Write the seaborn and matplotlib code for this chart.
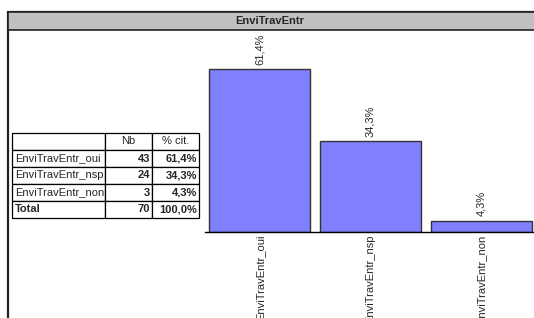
import numpy as np
import pandas as pd
import seaborn as sns
import matplotlib.pyplot as plt
from matplotlib.patches import Rectangle

# data
title = "EnviTravEntr"
categories = ["EnviTravEntr_oui", "EnviTravEntr_nsp", "EnviTravEntr_non"]
counts = [43, 24, 3]
pcts = [61.4, 34.3, 4.3]
pct_labels = ["61,4%", "34,3%", "4,3%"]
total_count = 70
total_label = "100,0%"
col_headers = ["", "Nb", "% cit."]

sns.set_style("white")
plt.rcParams['font.family'] = ['Liberation Sans', 'DejaVu Sans']

W, H = 534, 318
fig = plt.figure(figsize=(W / 100, H / 100), dpi=100)


def fx(x):
    return x / W


def fy(y):
    return 1 - y / H


# outer frame + title bar (behind the axes)
fig.patches.append(Rectangle((fx(8), fy(330)), fx(540) - fx(8), fy(12) - fy(330),
                             transform=fig.transFigure, facecolor="white",
                             edgecolor="#222222", linewidth=1.6, zorder=-2))
fig.patches.append(Rectangle((fx(8), fy(30)), fx(540) - fx(8), fy(12) - fy(30),
                             transform=fig.transFigure, facecolor="#c0c0c0",
                             edgecolor="#222222", linewidth=1.2, zorder=-1))
fig.text(fx(270), fy(21), title, ha="center", va="center",
         fontsize=8, fontweight="bold")

# bar chart
ax = fig.add_axes([fx(204.5), fy(232), fx(536.5) - fx(204.5), fy(30) - fy(232)])
ax.patch.set_alpha(0)
df = pd.DataFrame({"cat": categories, "pct": pcts})
sns.barplot(data=df, x="cat", y="pct", color="#8080ff", saturation=1,
            edgecolor="#333333", linewidth=1, width=0.91, ax=ax)
ax.bar_label(ax.containers[0], labels=pct_labels, rotation=90, padding=3, fontsize=8)
ax.set_ylim(0, 202 / 2.65)
ax.set_xlim(-0.5, 2.5)
ax.set_xlabel("")
ax.set_ylabel("")
ax.set_yticks([])
for s in ["top", "right", "left"]:
    ax.spines[s].set_visible(False)
ax.spines["bottom"].set_color("black")
ax.spines["bottom"].set_linewidth(1)
ax.tick_params(axis="x", length=0, pad=2, labelsize=8, labelrotation=90)
for lbl in ax.get_xticklabels():
    lbl.set_va("top")

# table
tax = fig.add_axes([fx(12), fy(218), fx(199) - fx(12), fy(133) - fy(218)])
tax.axis("off")
rows = [col_headers]
for c, n, p in zip(categories, counts, pct_labels):
    rows.append([c, str(n), p])
rows.append(["Total", str(total_count), total_label])
tbl = tax.table(cellText=rows, bbox=[0, 0, 1, 1],
                colWidths=[93 / 187, 47 / 187, 47 / 187])
tbl.auto_set_font_size(False)
for (r, c), cell in tbl.get_celld().items():
    cell.set_linewidth(0.9)
    cell.set_edgecolor("black")
    txt = cell.get_text()
    txt.set_fontsize(8)
    if r == 0:
        cell._loc = "center"
        txt.set_ha("center")
    elif c == 0:
        cell._loc = "left"
        txt.set_ha("left")
        cell.PAD = 0.03
        if r == len(rows) - 1:
            txt.set_fontweight("bold")
    else:
        cell._loc = "right"
        txt.set_ha("right")
        cell.PAD = 0.04
        txt.set_fontweight("bold")

fig.savefig("out.png", dpi=100)
